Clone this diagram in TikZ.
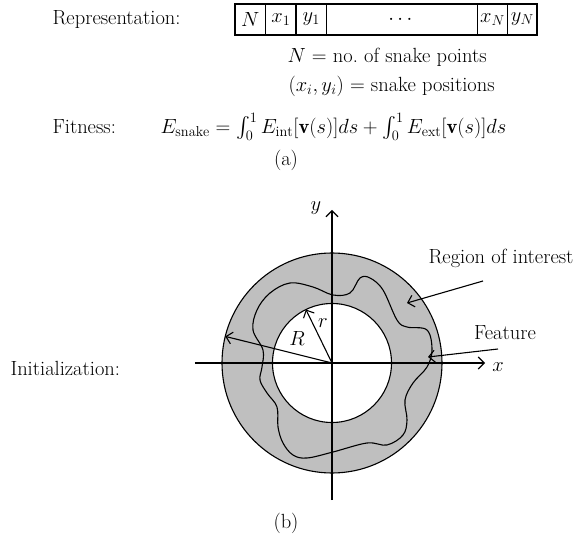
\RequirePackage{fix-cm}
\documentclass[tikz,border=0pt]{standalone}
\usepackage{amsmath}
\usepackage{fontspec}
\usetikzlibrary{positioning,arrows.meta}

\tikzset{
  cell/.style={draw, minimum height=31pt, inner sep=0pt, outer sep=0pt},
  lbl/.style={inner sep=0pt}
}

\begin{document}
\begin{tikzpicture}[x=1pt,y=1pt,line width=1.1pt,>={Straight Barb[length=6pt,width=12pt]},font=\fontsize{20.5}{24}\selectfont]
        \useasboundingbox (-332,-172) rectangle (246,363);
        % (a) representation and fitness
        \node (rep) [lbl, anchor=west] at (-280,343) {Representation:};
        \node (cN) [cell, minimum width=30.7pt, anchor=west] at (-97,343.5) {$N$};
        \node (cx1) [cell, minimum width=30.3pt, right=0pt of cN] {$x_1$};
        \node (cy1) [cell, minimum width=30.7pt, right=0pt of cx1] {$y_1$};
        \node (cdots) [cell, minimum width=150.6pt, right=0pt of cy1] {$\cdots$};
        \node (cxN) [cell, minimum width=30.4pt, right=0pt of cdots] {$x_N$};
        \node (cyN) [cell, minimum width=29.3pt, right=0pt of cxN] {$y_N$};
        \node (npts) [lbl, anchor=west] at (-45,306) {$N$ = no.\ of snake points};
        \node (npos) [lbl, anchor=west] at (-44,277) {$(x_i, y_i)$ = snake positions};
        \node (fit) [lbl, anchor=west] at (-280,236) {Fitness:};
        \node (eq) [lbl, anchor=west] at (-172,236)
          {$E_{\mathrm{snake}} = \int_0^1 E_{\mathrm{int}}[\mathbf{v}(s)]ds + \int_0^1 E_{\mathrm{ext}}[\mathbf{v}(s)]ds$};
        \node (capa) [lbl] at (-46,203) {(a)};
        % (b) initialization
        \node (init) [lbl, anchor=west] at (-322,-5) {Initialization:};
        \fill[gray!50] (0,0) circle (110);
        \draw (0,0) circle (110);
        \draw[fill=white] (0,0) circle (59.5);
        \draw plot[smooth cycle, tension=0.6] coordinates {(1,68) (18,70) (28,85) (38,85) (51,73) (65,43) (75,36) (95,33)
          (100,13) (95,-4) (81,-20) (73,-37) (75,-57) (71,-72) (55,-82) (35,-80) (1,-89) (-25,-95) (-39,-92)
          (-49,-80) (-54,-64) (-55,-44) (-65,-30) (-72,-17) (-70,-4) (-69,13) (-79,33) (-75,53) (-62,70)
          (-42,80) (-19,76)};
        \coordinate (o) at (0,0);
        \coordinate (xa) at (-137,0);
        \coordinate (xb) at (153,0);
        \coordinate (ya) at (0,-137);
        \coordinate (yb) at (0,153);
        \draw[->] (xa) -- (xb);
        \draw[->] (ya) -- (yb);
        \node (xl) [lbl] at (166,-4) {$x$};
        \node (yl) [lbl] at (-16,155) {$y$};
        \coordinate (Rend) at (166:110);
        \coordinate (rend) at (116:59.5);
        \draw[->] (o) -- (Rend);
        \draw[->] (o) -- (rend);
        \node (Rl) [lbl] at (-35,25) {$R$};
        \node (rl) [lbl] at (-9,40) {$r$};
        \node (roi) [lbl] at (169,105) {Region of interest};
        \node (feat) [lbl] at (173,30) {Feature};
        \coordinate (roia) at (151,82);
        \coordinate (roib) at (75,60);
        \coordinate (feata) at (166,14);
        \coordinate (featb) at (96,6);
        \draw[->] (roia) -- (roib);
        \draw[->] (feata) -- (featb);
        \node (capb) [lbl] at (-46,-160) {(b)};
    \end{tikzpicture}
\end{document}
